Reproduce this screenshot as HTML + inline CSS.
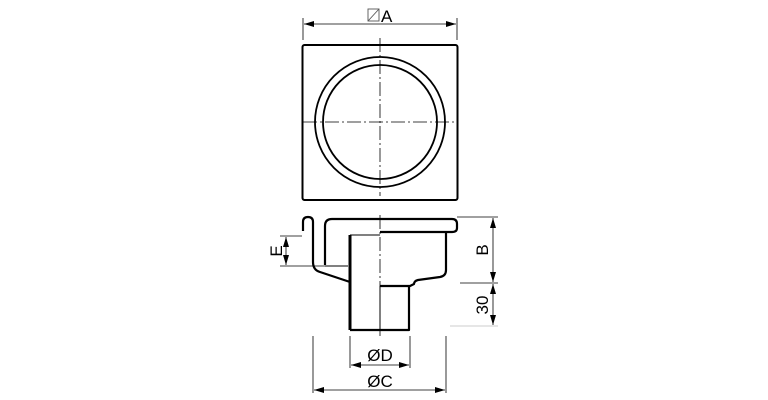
<!DOCTYPE html>
<html><head><style>
html,body{margin:0;padding:0;background:#fff;width:768px;height:400px;overflow:hidden}
svg{display:block}
text{font-family:"Liberation Sans",Arial,sans-serif;fill:#000}
</style></head><body>
<svg width="768" height="400" viewBox="0 0 768 400">
<defs>
<marker id="ar" viewBox="0 0 10 6" refX="10" refY="3" markerWidth="10" markerHeight="6" orient="auto-start-reverse" markerUnits="userSpaceOnUse"><path d="M0,0 L10,3 L0,6 Z" fill="#000"/></marker>
</defs>
<!-- Top view -->
<line x1="303" y1="18" x2="303" y2="40" stroke="#000" stroke-width="0.8"/>
<line x1="457" y1="18" x2="457" y2="40" stroke="#000" stroke-width="0.8"/>
<line x1="304" y1="24" x2="456" y2="24" stroke="#000" stroke-width="0.8" marker-start="url(#ar)" marker-end="url(#ar)"/>
<rect x="368" y="9" width="11" height="12" fill="none" stroke="#555" stroke-width="0.9"/>
<line x1="368" y1="21" x2="379" y2="9" stroke="#555" stroke-width="0.9"/>
<text x="381" y="22" font-size="17">A</text>
<rect x="302.5" y="45" width="155" height="155" rx="2" fill="none" stroke="#000" stroke-width="2"/>
<circle cx="380" cy="122" r="65" fill="none" stroke="#000" stroke-width="1.8"/>
<circle cx="380" cy="122" r="57" fill="none" stroke="#000" stroke-width="1.8"/>
<line x1="380" y1="38" x2="380" y2="196" stroke="#000" stroke-width="0.8" stroke-dasharray="14,3,2,3"/>
<line x1="303" y1="122" x2="457" y2="122" stroke="#000" stroke-width="0.8" stroke-dasharray="14,3,2,3"/>
<!-- Side view -->
<g fill="none" stroke="#000" stroke-width="2.2" stroke-linejoin="round">
<path d="M303,231 L303,222 Q303,217 308,217 Q313,217 313,222 L313,262 Q313,270 320,272 L350,282"/>
<path d="M325,265 L325,226 Q325,219 332,219 L452,219 Q457,219 457,224 L457,228 Q457,232 452,232 L380,232"/>
<path d="M350,330 L350,235" stroke-width="3"/>
<path d="M446,232 L446,270 Q446,276 440,277 L418,280 Q414,281 414,284 L410,286 L380,286"/>
<path d="M409,286 L409,330 L350,330"/>
</g>
<g stroke="#000" stroke-width="1" fill="none">
<line x1="350" y1="235" x2="380" y2="235"/>
<line x1="325" y1="266" x2="348" y2="266"/>
<line x1="380" y1="286" x2="380" y2="330"/>
</g>
<line x1="380" y1="215" x2="380" y2="336" stroke="#000" stroke-width="0.8" stroke-dasharray="14,3,2,3"/>
<g stroke="#000" stroke-width="0.8">
<line x1="280" y1="236" x2="302" y2="236"/>
<line x1="280" y1="266" x2="325" y2="266"/>
<line x1="286" y1="237" x2="286" y2="265" marker-start="url(#ar)" marker-end="url(#ar)"/>
<line x1="457" y1="217" x2="498" y2="217"/>
<line x1="460" y1="283" x2="498" y2="283"/>
<line x1="450" y1="326" x2="498" y2="326" stroke="#bbb"/>
<line x1="493" y1="218" x2="493" y2="282" marker-start="url(#ar)" marker-end="url(#ar)"/>
<line x1="493" y1="284" x2="493" y2="325" marker-start="url(#ar)" marker-end="url(#ar)"/>
<line x1="350" y1="336" x2="350" y2="368"/>
<line x1="410" y1="336" x2="410" y2="368"/>
<line x1="351" y1="365" x2="409" y2="365" marker-start="url(#ar)" marker-end="url(#ar)"/>
<line x1="313" y1="336" x2="313" y2="393"/>
<line x1="446" y1="336" x2="446" y2="393"/>
<line x1="314" y1="390" x2="445" y2="390" marker-start="url(#ar)" marker-end="url(#ar)"/>
</g>
<text x="276" y="251" font-size="17" text-anchor="middle" transform="rotate(-90 276 251)" dy="6">E</text>
<text x="482" y="250" font-size="17" text-anchor="middle" transform="rotate(-90 482 250)" dy="6">B</text>
<text x="482" y="305" font-size="17" text-anchor="middle" transform="rotate(-90 482 305)" dy="6">30</text>
<text x="380" y="361" font-size="17" text-anchor="middle">ØD</text>
<text x="380" y="387" font-size="17" text-anchor="middle">ØC</text>
</svg>
</body></html>
